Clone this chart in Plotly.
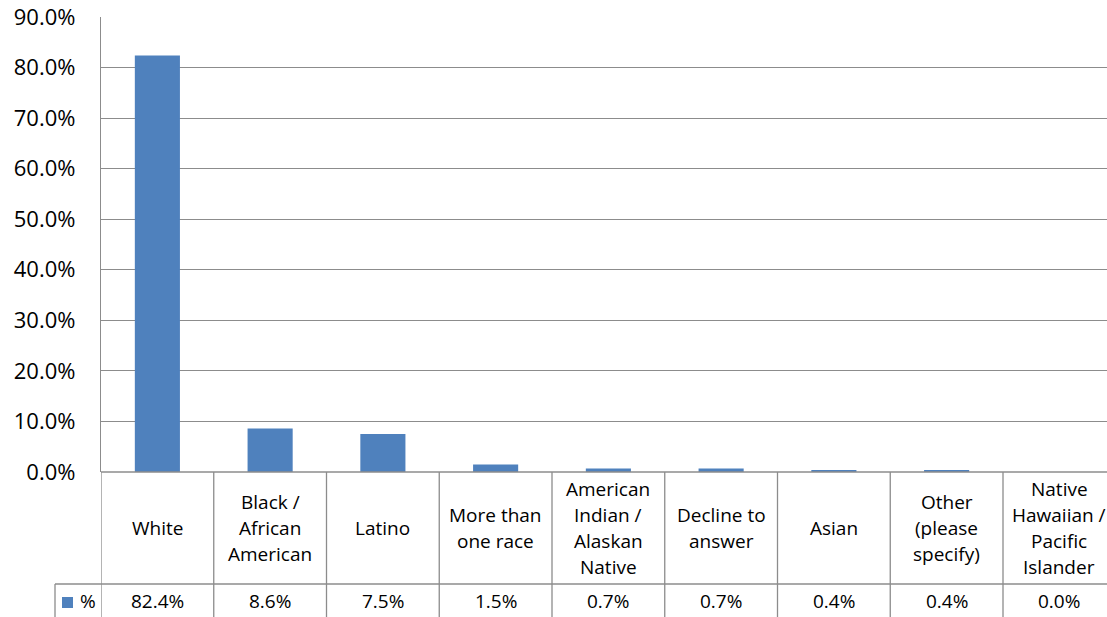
import plotly.graph_objects as go

# Survey responses by race / ethnicity (percent of respondents)
categories = [
    "White",
    "Black / African American",
    "Latino",
    "More than one race",
    "American Indian / Alaskan Native",
    "Decline to answer",
    "Asian",
    "Other (please specify)",
    "Native Hawaiian / Pacific Islander",
]
header_lines = [
    ["White"],
    ["Black /", "African", "American"],
    ["Latino"],
    ["More than", "one race"],
    ["American", "Indian /", "Alaskan", "Native"],
    ["Decline to", "answer"],
    ["Asian"],
    ["Other", "(please", "specify)"],
    ["Native", "Hawaiian /", "Pacific", "Islander"],
]
values = [82.4, 8.6, 7.5, 1.5, 0.7, 0.7, 0.4, 0.4, 0.0]
series_name = "%"
y_ticks = [0, 10, 20, 30, 40, 50, 60, 70, 80, 90]

W, H = 1107, 617
BAR_COLOR = "#4F81BD"
LINE_COLOR = "#8C8C8C"
FONT = "Open Sans"
TABLE_FONT_SIZE = 19

# pixel layout of plot area and data table
left_px = 101
top_px = 17
axis_px = 472
row_px = 584
legend_left_px = 55
cat_w = 112.75


def py(px):
    return (H - px) / H


def px_x(px):
    return px / W


x_idx = list(range(len(categories)))
x_max = (W - left_px) / cat_w - 0.5

fig = go.Figure()
fig.add_trace(go.Bar(
    x=x_idx,
    y=values,
    name=series_name,
    marker=dict(color=BAR_COLOR, line=dict(width=0)),
    width=0.4,
    hoverinfo="skip",
))

shapes = []
annotations = []

# table grid: header row and value row
shapes.append(dict(type="line", xref="paper", yref="paper",
                   x0=px_x(left_px), x1=1, y0=py(axis_px), y1=py(axis_px),
                   line=dict(color=LINE_COLOR, width=1.3)))
shapes.append(dict(type="line", xref="paper", yref="paper",
                   x0=px_x(legend_left_px), x1=1, y0=py(row_px), y1=py(row_px),
                   line=dict(color=LINE_COLOR, width=1.3)))
shapes.append(dict(type="line", xref="paper", yref="paper",
                   x0=px_x(legend_left_px), x1=px_x(legend_left_px),
                   y0=py(row_px), y1=0,
                   line=dict(color=LINE_COLOR, width=1.3)))
for i in range(len(categories) + 1):
    shapes.append(dict(type="line", xref="x", yref="paper",
                       x0=i - 0.5, x1=i - 0.5, y0=py(axis_px), y1=0,
                       line=dict(color=LINE_COLOR, width=1.3)))

# category labels, one annotation per line
line_h = 26
header_mid = (axis_px + row_px) / 2
for i, lines in enumerate(header_lines):
    n = len(lines)
    for j, txt in enumerate(lines):
        ypx = header_mid + (j - (n - 1) / 2) * line_h
        annotations.append(dict(x=i, y=py(ypx), xref="x", yref="paper",
                                text=txt, showarrow=False,
                                xanchor="center", yanchor="middle",
                                font=dict(family=FONT, size=TABLE_FONT_SIZE,
                                          color="#000000")))

# value row
value_mid = 601
for i, v in enumerate(values):
    annotations.append(dict(x=i, y=py(value_mid), xref="x", yref="paper",
                            text=f"{v:.1f}%", showarrow=False,
                            xanchor="center", yanchor="middle",
                            font=dict(family=FONT, size=TABLE_FONT_SIZE,
                                      color="#000000")))

# legend key inside the table
shapes.append(dict(type="rect", xref="paper", yref="paper",
                   x0=px_x(62), x1=px_x(73), y0=py(608), y1=py(597),
                   fillcolor=BAR_COLOR, line=dict(width=0)))
annotations.append(dict(x=px_x(78), y=py(value_mid), xref="paper", yref="paper",
                        text=series_name, showarrow=False,
                        xanchor="left", yanchor="middle",
                        font=dict(family=FONT, size=TABLE_FONT_SIZE,
                                  color="#000000")))

fig.update_layout(
    width=W, height=H,
    margin=dict(l=0, r=0, t=0, b=0, autoexpand=False),
    paper_bgcolor="white",
    plot_bgcolor="white",
    showlegend=False,
    bargap=0.6,
    font=dict(family=FONT, size=22, color="#000000"),
    shapes=shapes,
    annotations=annotations,
    xaxis=dict(
        domain=[px_x(left_px), 1],
        range=[-0.5, x_max],
        showticklabels=False,
        showgrid=False,
        zeroline=False,
        showline=False,
        ticks="",
        automargin=False,
        fixedrange=True,
    ),
    yaxis=dict(
        domain=[py(axis_px), py(top_px)],
        range=[0, 90],
        tickvals=y_ticks,
        ticktext=[f"{t:.1f}%" for t in y_ticks],
        showgrid=True,
        gridcolor=LINE_COLOR,
        gridwidth=1.3,
        zeroline=False,
        showline=True,
        linecolor=LINE_COLOR,
        linewidth=1.3,
        ticks="",
        ticklabelstandoff=20,
        tickfont=dict(family=FONT, size=22, color="#000000"),
        automargin=False,
        fixedrange=True,
    ),
)

fig.write_html("out.html")
